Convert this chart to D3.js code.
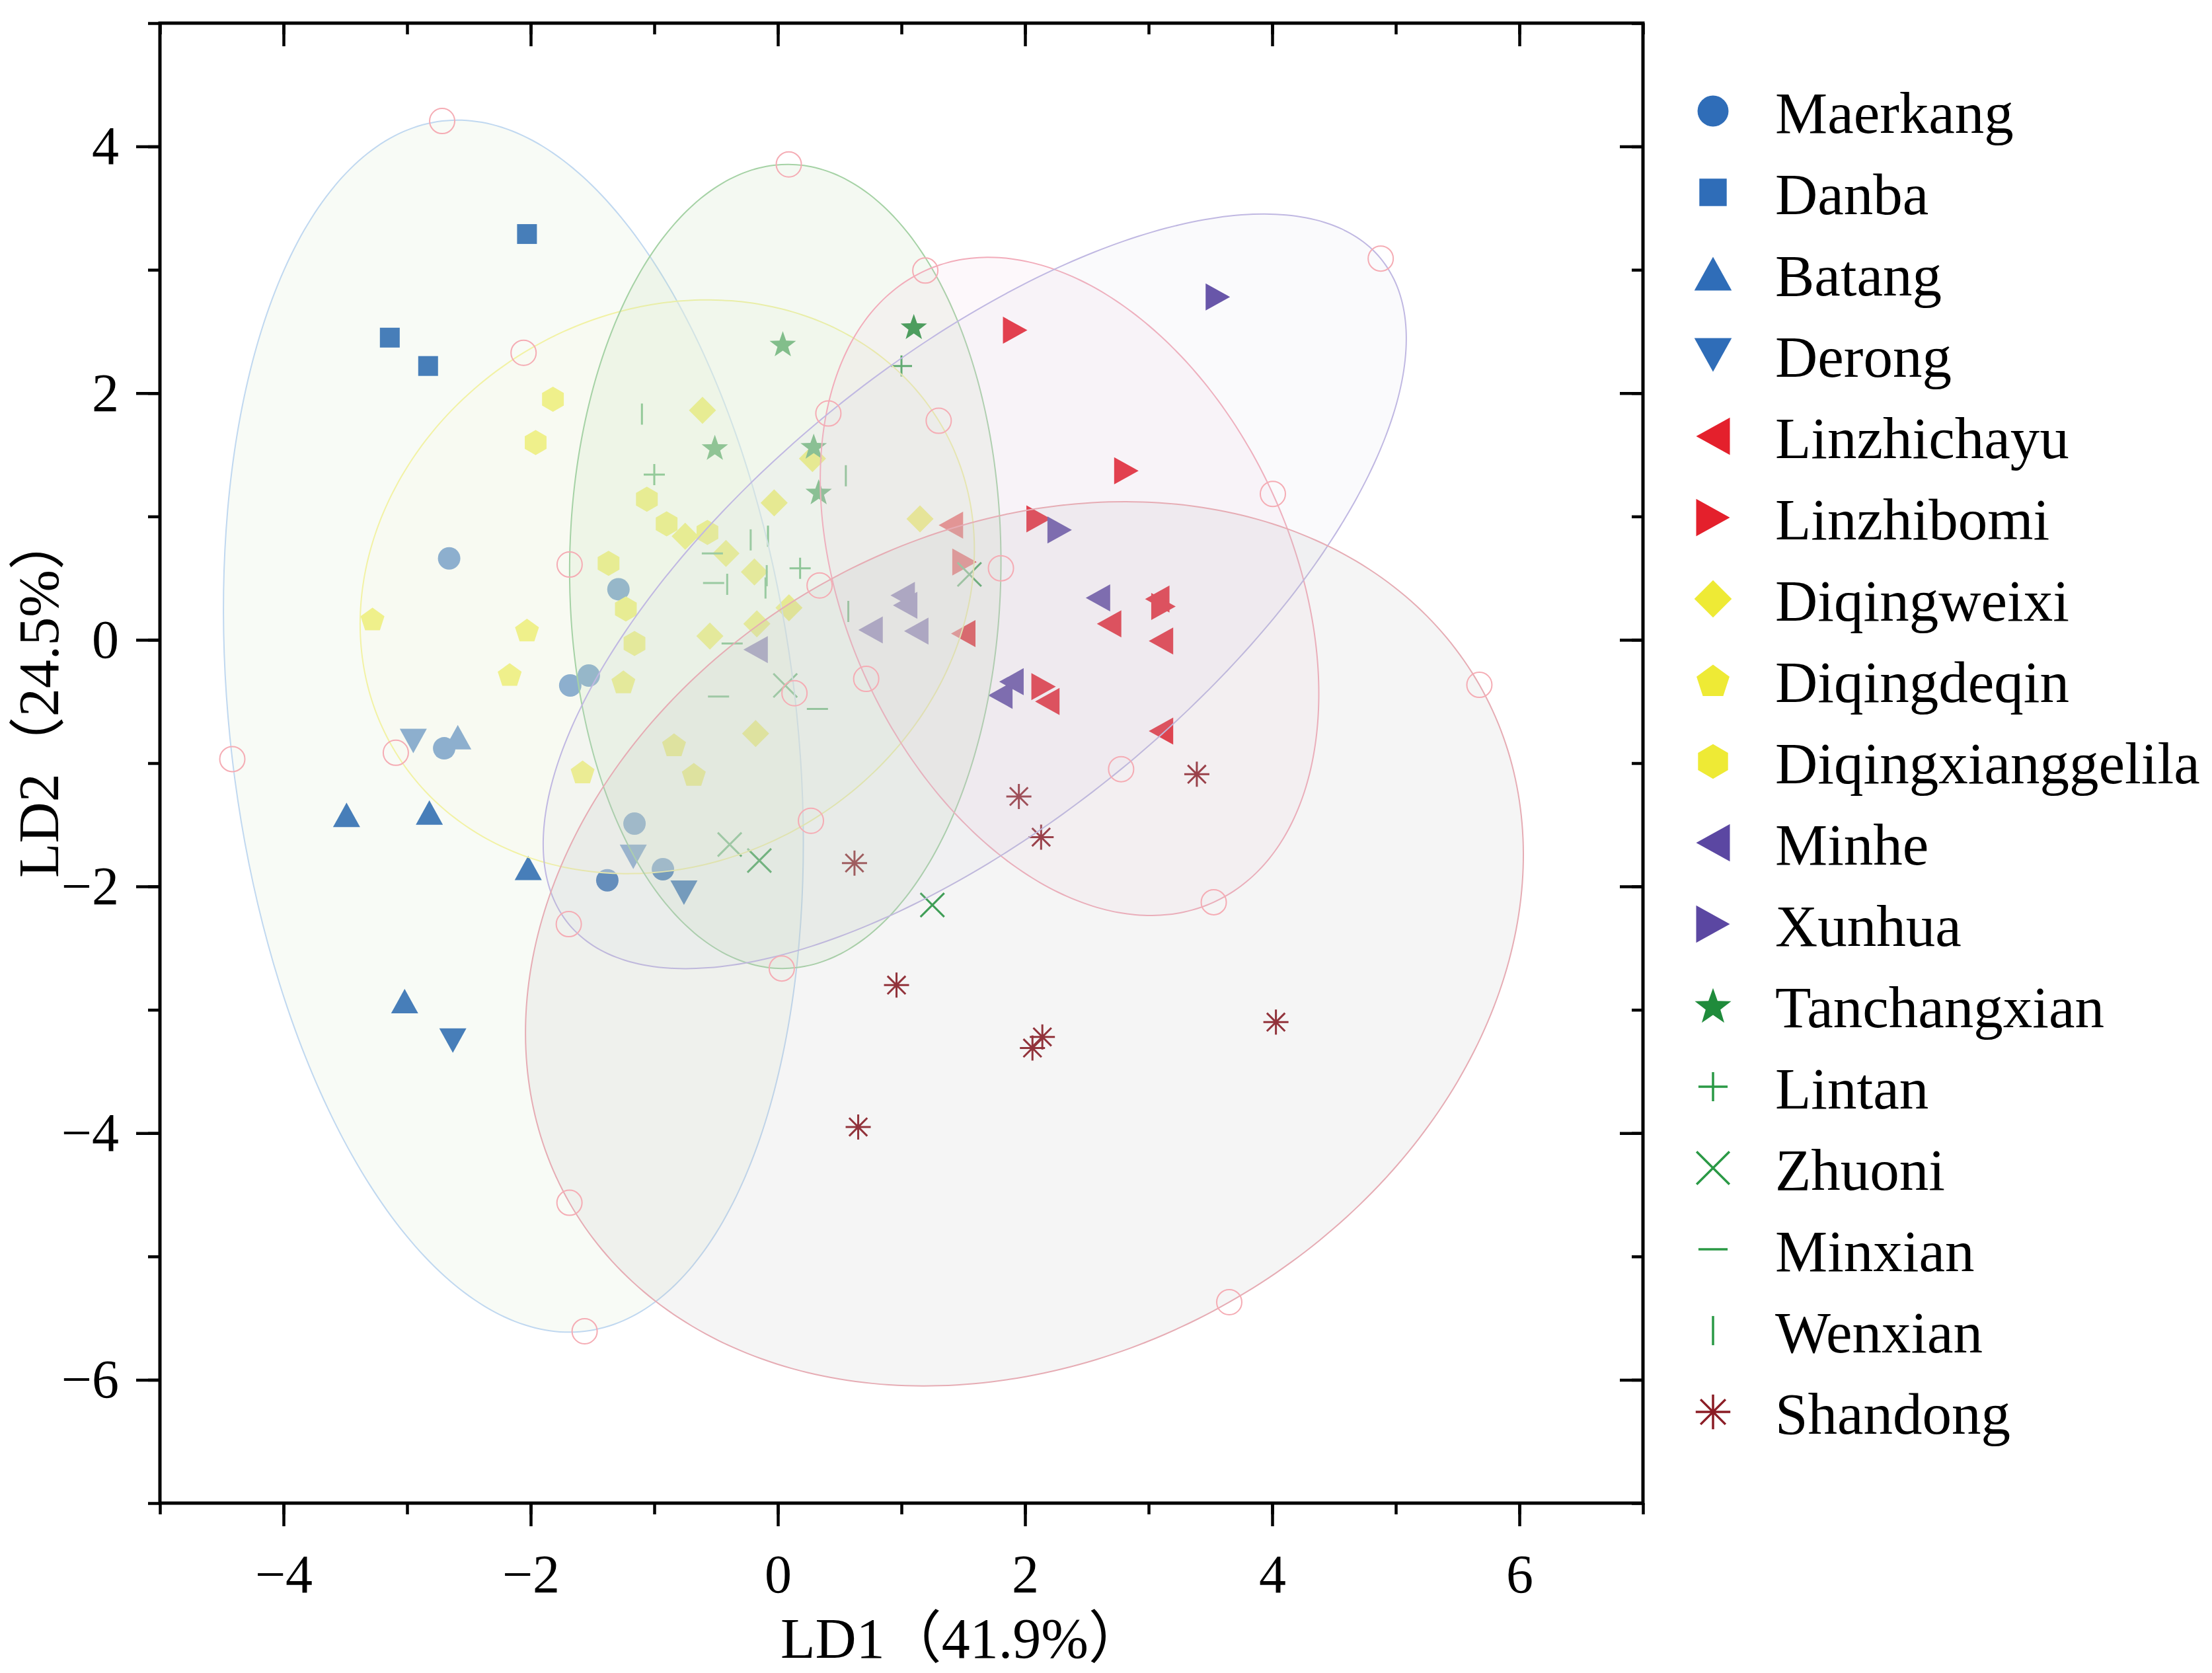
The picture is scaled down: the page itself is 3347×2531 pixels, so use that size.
<!DOCTYPE html>
<html><head><meta charset="utf-8">
<script src="https://cdn.jsdelivr.net/npm/d3@7"></script>
<style>html,body{margin:0;padding:0;background:#fff}</style>
</head><body>
<svg id="chart" width="3347" height="2531" xmlns="http://www.w3.org/2000/svg"></svg>
<script>
// ---------------- DATA ----------------
const groupNames = ["Maerkang","Danba","Batang","Derong","Linzhichayu","Linzhibomi","Diqingweixi","Diqingdeqin","Diqingxianggelila","Minhe","Xunhua","Tanchangxian","Lintan","Zhuoni","Minxian","Wenxian","Shandong"];

const maerkang = [[-2.66,0.66],[-1.29,0.41],[-1.68,-0.37],[-1.53,-0.29],[-2.70,-0.88],[-1.16,-1.49],[-0.93,-1.86],[-1.38,-1.95]];
const danba = [[-3.14,2.45],[-2.83,2.22],[-2.03,3.29]];
const batang = [[-2.59,-0.79],[-3.49,-1.42],[-2.82,-1.40],[-2.02,-1.85],[-3.02,-2.93]];
const derong = [[-2.95,-0.82],[-1.17,-1.76],[-0.76,-2.05],[-2.63,-3.25]];
const linzhichayu = [[1.40,0.93],[1.50,0.05],[2.68,0.13],[3.10,-0.01],[3.07,0.33],[3.10,-0.74],[2.18,-0.50]];
const linzhibomi = [[1.92,2.51],[2.82,1.37],[2.11,0.98],[1.51,0.63],[3.12,0.27],[2.15,-0.38]];
const diqingweixi = [[-0.61,1.86],[0.28,1.47],[-0.03,1.11],[1.15,0.98],[-0.75,0.84],[-0.42,0.70],[-0.19,0.55],[0.09,0.26],[-0.17,0.13],[-0.55,0.03],[-0.18,-0.76]];
const diqingdeqin = [[-3.28,0.17],[-2.03,0.08],[-2.17,-0.28],[-1.25,-0.34],[-0.84,-0.85],[-1.58,-1.07],[-0.68,-1.09]];
const diqingxianggelila = [[-1.82,1.95],[-1.96,1.60],[-1.06,1.14],[-0.90,0.94],[-0.57,0.87],[-1.37,0.62],[-1.23,0.25],[-1.16,-0.03]];
const minhe = [[-0.18,-0.08],[0.75,0.08],[1.12,0.07],[1.01,0.36],[1.03,0.28],[1.80,-0.45],[1.89,-0.34],[2.59,0.34]];
const xunhua = [[3.56,2.78],[2.28,0.89]];
const tanchangxian = [[0.04,2.40],[1.10,2.54],[-0.51,1.56],[0.29,1.57],[0.33,1.20]];
const lintan = [[1.00,2.22],[-1.00,1.34],[0.18,0.58]];
const zhuoni = [[1.55,0.53],[0.06,-0.37],[-0.39,-1.66],[-0.15,-1.79],[1.25,-2.15]];
const minxian = [[-0.53,0.70],[-0.52,0.46],[-0.37,-0.03],[-0.48,-0.46],[0.32,-0.56]];
const wenxian = [[-1.10,1.83],[0.55,1.33],[-0.22,0.81],[-0.08,0.84],[-0.41,0.45],[-0.09,0.52],[-0.10,0.42],[0.57,0.23]];
const shandong = [[3.39,-1.09],[1.95,-1.27],[2.13,-1.60],[0.62,-1.81],[0.96,-2.80],[2.14,-3.22],[2.06,-3.31],[4.03,-3.10],[0.65,-3.95]];

const groupValues = [maerkang,danba,batang,derong,linzhichayu,linzhibomi,diqingweixi,diqingdeqin,diqingxianggelila,minhe,xunhua,tanchangxian,lintan,zhuoni,minxian,wenxian,shandong];

// 95% ellipses: regions
const ellipseNames = ["Sichuan","Diqing","Gansu","Linzhi","Qinghai","Shandong"];
const ellipseCenters = [[-2.14,-0.70],[-0.895,0.43],[0.06,0.595],[2.36,0.433],[1.593,0.393],[1.995,-2.465]];
const ellipseSemiA = [4.94,2.576,3.26,2.814,4.251,4.238];
const ellipseSemiB = [2.29,2.225,1.745,1.808,1.866,3.345];
const ellipseAngles = [-83.3,31.5,89.5,-65.5,39.4,29.7];

const xMajorTicks = [-4,-2,0,2,4,6];
const yMajorTicks = [-6,-4,-2,0,2,4];
const xMinorTicks = d3.range(-5,8,1);
const yMinorTicks = d3.range(-7,6,1);
const xTitle = "LD1（41.9%）";
const yTitle = "LD2（24.5%）";

// ---------------- STYLE ----------------
const BLUE="#2f6db8", RED="#e4202c", YEL="#eeea35", PUR="#5b47a2", GRN="#1f8b3b", LGRN="#2a9945", SHD="#8b1c25";
const groupShapes = ["circle","square","triUp","triDown","triLeft","triRight","diamond","pentagon","hexagon","triLeft","triRight","star","plus","cross","minus","vbar","asterisk"];
const groupColors = [BLUE,BLUE,BLUE,BLUE,RED,RED,YEL,YEL,YEL,PUR,PUR,GRN,LGRN,LGRN,LGRN,LGRN,SHD];
const ellipseFill = ["rgb(205,228,196)","rgb(248,249,238)","rgb(195,222,185)","rgb(238,190,220)","rgb(210,205,225)","rgb(185,185,185)"];
const ellipseFillOpacity = [0.15,0.40,0.18,0.10,0.11,0.15];
const ellipseStroke = ["rgb(192,216,240)","rgb(242,242,165)","rgb(165,210,165)","rgb(242,172,186)","rgb(192,184,226)","rgb(230,172,180)"];

const FONT = "'Liberation Serif','Times New Roman','Noto Sans CJK SC',serif";

const svg = d3.select("#chart");
svg.append("rect").attr("width",3347).attr("height",2531).attr("fill","#fff");

const L=242, R=2486, T=35, B=2274;
const x = d3.scaleLinear().domain([-5,7]).range([L,R]);
const y = d3.scaleLinear().domain([-7,5]).range([B,T]);

function markerPath(shape, s){
  const p = (pts)=> "M"+pts.map(q=>q[0].toFixed(2)+","+q[1].toFixed(2)).join("L")+"Z";
  switch(shape){
    case "circle": { const r=17*s; return `M${-r},0A${r},${r} 0 1,0 ${r},0A${r},${r} 0 1,0 ${-r},0Z`; }
    case "square": { const h=15*s; return p([[-h,-h],[h,-h],[h,h],[-h,h]]); }
    case "triUp": { const w=20.5*s,h=18.5*s; return p([[0,-h],[w,h],[-w,h]]); }
    case "triDown": { const w=20.5*s,h=18.5*s; return p([[0,h],[w,-h],[-w,-h]]); }
    case "triLeft": { const w=18.5*s,h=20.5*s; return p([[-w,0],[w,-h],[w,h]]); }
    case "triRight": { const w=18.5*s,h=20.5*s; return p([[w,0],[-w,-h],[-w,h]]); }
    case "diamond": { const d=20.5*s; return p([[0,-d],[d,0],[0,d],[-d,0]]); }
    case "pentagon": { const r=19*s; return p(d3.range(5).map(k=>{const a=(-90+72*k)*Math.PI/180;return [r*Math.cos(a),r*Math.sin(a)+2*s];})); }
    case "hexagon": { const r=19*s; return p(d3.range(6).map(k=>{const a=(-90+60*k)*Math.PI/180;return [r*Math.cos(a),r*Math.sin(a)];})); }
    case "star": { const ro=21*s, ri=8.5*s; return p(d3.range(10).map(k=>{const a=(-90+36*k)*Math.PI/180, r=k%2?ri:ro;return [r*Math.cos(a),r*Math.sin(a)+2*s];})); }
    case "plus": { const h=16*s; return `M${-h},0L${h},0M0,${-h}L0,${h}`; }
    case "cross": { const h=18*s; return `M${-h},${-h}L${h},${h}M${-h},${h}L${h},${-h}`; }
    case "minus": { const h=16*s; return `M${-h},0L${h},0`; }
    case "vbar": { const h=16*s; return `M0,${-h}L0,${h}`; }
    case "asterisk": { const h=19*s, d=h*0.72; return `M${-h},0L${h},0M0,${-h}L0,${h}M${-d},${-d}L${d},${d}M${-d},${d}L${d},${-d}`; }
  }
}
const lineShapes = new Set(["plus","cross","minus","vbar","asterisk"]);
function styleMarker(sel, shape, color, sw){
  if(lineShapes.has(shape)) sel.attr("fill","none").attr("stroke",color).attr("stroke-width",sw);
  else sel.attr("fill",color).attr("stroke","none");
}

// clip
svg.append("clipPath").attr("id","plotclip").append("rect").attr("x",L).attr("y",T).attr("width",R-L).attr("height",B-T);
const plot = svg.append("g").attr("clip-path","url(#plotclip)");

// points
groupNames.forEach((name,gi)=>{
  const g = plot.append("g").attr("class","grp-"+name);
  g.selectAll("path").data(groupValues[gi]).join("path")
    .attr("d", markerPath(groupShapes[gi],1))
    .attr("transform", d=>`translate(${x(d[0])},${y(d[1])})`)
    .call(sel=>styleMarker(sel, groupShapes[gi], groupColors[gi], 3));
});

// ellipses (drawn over points, translucent)
function ellipsePoints(i){
  const [cx,cy]=ellipseCenters[i], a=ellipseSemiA[i], b=ellipseSemiB[i], th=ellipseAngles[i]*Math.PI/180;
  const ux=Math.cos(th), uy=Math.sin(th), vx=-Math.sin(th), vy=Math.cos(th);
  return d3.range(0,360,2).map(deg=>{const t=deg*Math.PI/180;
    return [cx + a*Math.cos(t)*ux + b*Math.sin(t)*vx, cy + a*Math.cos(t)*uy + b*Math.sin(t)*vy];});
}
const eline = d3.line().x(d=>x(d[0])).y(d=>y(d[1])).curve(d3.curveCardinalClosed);
const eg = plot.append("g");
ellipseNames.forEach((n,i)=>{
  eg.append("path").datum(ellipsePoints(i)).attr("d",eline)
    .attr("fill",ellipseFill[i]).attr("fill-opacity",ellipseFillOpacity[i])
    .attr("stroke",ellipseStroke[i]).attr("stroke-width",2);
});
// axis end markers (hollow circles)
const handles=[];
ellipseNames.forEach((n,i)=>{
  const [cx,cy]=ellipseCenters[i], a=ellipseSemiA[i], b=ellipseSemiB[i], th=ellipseAngles[i]*Math.PI/180;
  const ux=Math.cos(th), uy=Math.sin(th), vx=-Math.sin(th), vy=Math.cos(th);
  handles.push([cx+a*ux,cy+a*uy],[cx-a*ux,cy-a*uy],[cx+b*vx,cy+b*vy],[cx-b*vx,cy-b*vy]);
});
eg.selectAll("circle.h").data(handles).join("circle").attr("class","h")
  .attr("cx",d=>x(d[0])).attr("cy",d=>y(d[1])).attr("r",19)
  .attr("fill","none").attr("stroke","rgb(245,172,180)").attr("stroke-width",2);

// axes
function styleAxis(g){
  g.select(".domain").remove();
  g.selectAll(".tick line").attr("stroke","#000").attr("stroke-width",4.5);
  g.selectAll(".tick text").attr("font-family",FONT).attr("font-size",82).attr("fill","#000");
}
const fmt = d3.format("d");
svg.append("g").attr("transform",`translate(0,${B})`)
  .call(d3.axisBottom(x).tickValues(xMinorTicks).tickSize(17).tickFormat("")).call(styleAxis);
svg.append("g").attr("transform",`translate(0,${B})`)
  .call(d3.axisBottom(x).tickValues(xMajorTicks).tickSize(35).tickPadding(42).tickFormat(fmt)).call(styleAxis);
svg.append("g").attr("transform",`translate(${L},0)`)
  .call(d3.axisLeft(y).tickValues(yMinorTicks).tickSize(18).tickFormat("")).call(styleAxis);
svg.append("g").attr("transform",`translate(${L},0)`)
  .call(d3.axisLeft(y).tickValues(yMajorTicks).tickSize(36).tickPadding(26).tickFormat(fmt)).call(styleAxis);
// top & right (inward)
svg.append("g").attr("transform",`translate(0,${T})`)
  .call(d3.axisBottom(x).tickValues(xMinorTicks).tickSize(17).tickFormat("")).call(styleAxis);
svg.append("g").attr("transform",`translate(0,${T})`)
  .call(d3.axisBottom(x).tickValues(xMajorTicks).tickSize(35).tickFormat("")).call(styleAxis);
svg.append("g").attr("transform",`translate(${R},0)`)
  .call(d3.axisLeft(y).tickValues(yMinorTicks).tickSize(17).tickFormat("")).call(styleAxis);
svg.append("g").attr("transform",`translate(${R},0)`)
  .call(d3.axisLeft(y).tickValues(yMajorTicks).tickSize(35).tickFormat("")).call(styleAxis);

svg.append("rect").attr("x",L).attr("y",T).attr("width",R-L).attr("height",B-T)
  .attr("fill","none").attr("stroke","#000").attr("stroke-width",5);

// titles
svg.append("text").attr("x",1181).attr("y",2508).attr("font-family",FONT).attr("font-size",86)
  .attr("fill","#000").text(xTitle);
svg.append("text").attr("transform","translate(88,1328) rotate(-90)").attr("font-family",FONT).attr("font-size",86)
  .attr("fill","#000").text(yTitle);

// legend
const lg = svg.append("g");
groupNames.forEach((name,i)=>{
  const cy = 168 + i*123;
  lg.append("path").attr("d",markerPath(groupShapes[i],1.38)).attr("transform",`translate(2592,${cy})`)
    .call(sel=>styleMarker(sel, groupShapes[i], groupColors[i], 3.5));
  lg.append("text").attr("x",2686).attr("y",cy+33).attr("font-family",FONT).attr("font-size",89)
    .attr("fill","#000").text(name);
});
</script>
</body></html>
